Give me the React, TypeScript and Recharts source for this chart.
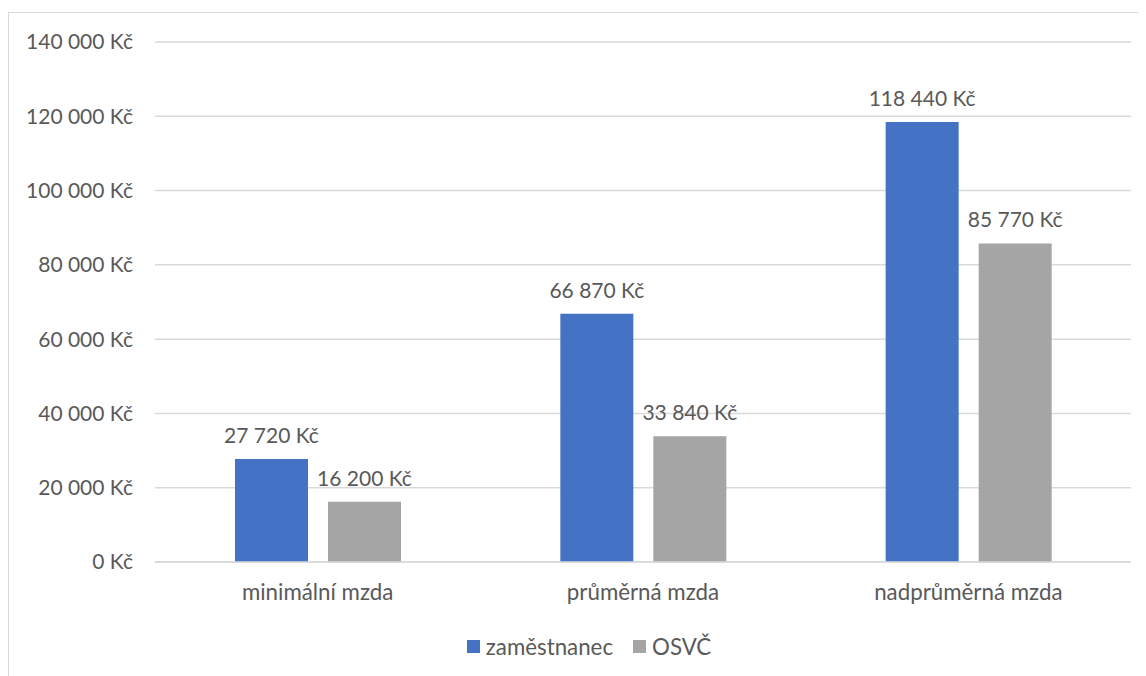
import { Bar, BarChart, CartesianGrid, LabelList, Legend, XAxis, YAxis } from 'recharts';

const categories = ['minimální mzda', 'průměrná mzda', 'nadprůměrná mzda'];
const zamestnanec = [27720, 66870, 118440];
const osvc = [16200, 33840, 85770];
const yTicks = [0, 20000, 40000, 60000, 80000, 100000, 120000, 140000];

const colors = {
  zamestnanec: '#4472C4',
  osvc: '#A5A5A5'
};

const textColor = '#595959';
const font = 'Lato, "Open Sans", sans-serif';

const fmt = (v: number) => `${String(v).replace(/\B(?=(\d{3})+(?!\d))/g, ' ')} Kč`;

const data = categories.map((name, i) => ({
  name,
  zamestnanec: zamestnanec[i],
  osvc: osvc[i]
}));

const legendItems = [
  { label: 'zaměstnanec', color: colors.zamestnanec },
  { label: 'OSVČ', color: colors.osvc }
];

const LegendContent = () => (
  <div style={{ display: 'flex', justifyContent: 'center', gap: 20, fontFamily: font, fontSize: 22.3, color: textColor }}>
    {legendItems.map((item) => (
      <div key={item.label} style={{ display: 'flex', alignItems: 'center', gap: 6 }}>
        <span style={{ width: 13, height: 13, background: item.color, display: 'inline-block' }} />
        <span>{item.label}</span>
      </div>
    ))}
  </div>
);

// plain text label, no wrapping to bar width
const ValueLabel = (props: any) => {
  const { x, y, width, value } = props;
  return (
    <text x={x + width / 2} y={y - 16} textAnchor="middle" fill={textColor} fontSize={21} fontFamily={font}>
      {fmt(value)}
    </text>
  );
};

export default function App() {
  return (
    <div style={{ paddingTop: 4 }}>
      <div style={{ border: '1px solid #d9d9d9', width: 1162, height: 700, boxSizing: 'content-box' }}>
        <BarChart
          width={1162}
          height={675}
          data={data}
          margin={{ top: 29, right: 40, left: 0, bottom: 15 }}
          barSize={73}
          barGap={20}
          style={{ fontFamily: font }}
        >
          <CartesianGrid vertical={false} stroke="#d9d9d9" strokeWidth={1.5} />
          <XAxis
            dataKey="name"
            axisLine={{ stroke: '#d9d9d9', strokeWidth: 1.5 }}
            tickLine={false}
            tickSize={0}
            tickMargin={22}
            height={62}
            tick={{ fill: textColor, fontSize: 22.3 }}
          />
          <YAxis
            width={146}
            domain={[0, 140000]}
            ticks={yTicks}
            axisLine={false}
            tickLine={false}
            tickSize={0}
            tickMargin={22}
            tickFormatter={fmt}
            tick={{ fill: textColor, fontSize: 21 }}
          />
          <Legend
            verticalAlign="bottom"
            height={40}
            content={<LegendContent />}
            wrapperStyle={{ paddingTop: 9, left: 0, width: 1160 }}
          />
          <Bar dataKey="zamestnanec" fill={colors.zamestnanec} isAnimationActive={false}>
            <LabelList dataKey="zamestnanec" content={<ValueLabel />} />
          </Bar>
          <Bar dataKey="osvc" fill={colors.osvc} isAnimationActive={false}>
            <LabelList dataKey="osvc" content={<ValueLabel />} />
          </Bar>
        </BarChart>
      </div>
    </div>
  );
}
